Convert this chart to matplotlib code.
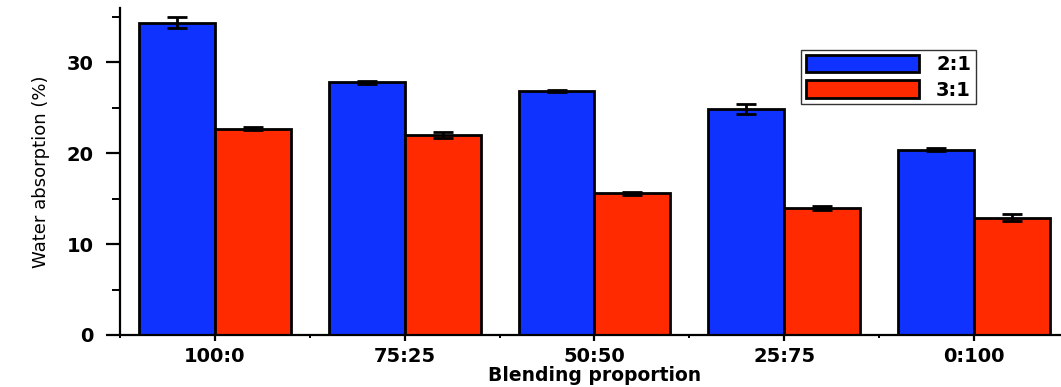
import numpy as np
import matplotlib
matplotlib.use("Agg")
from matplotlib import pyplot as plt
from matplotlib.ticker import MultipleLocator

# water absorption by blending proportion, two binder ratios
categories = ["100:0", "75:25", "50:50", "25:75", "0:100"]
ratio_21 = [34.4, 27.8, 26.9, 24.9, 20.4]
ratio_21_err = [0.65, 0.2, 0.1, 0.55, 0.15]
ratio_31 = [22.7, 22.0, 15.6, 14.0, 12.9]
ratio_31_err = [0.15, 0.3, 0.15, 0.25, 0.4]

blue = "#0f32ff"
red = "#ff2a00"

fig = plt.figure(figsize=(10.61, 3.87), dpi=100)
ax = fig.add_axes([0.1131, 0.1344, 0.8944, 0.845])

x = np.arange(len(categories))
w = 0.4
ax.bar(x - w/2, ratio_21, width=w, color=blue, edgecolor="black", linewidth=2, label="2:1", zorder=2)
ax.bar(x + w/2, ratio_31, width=w, color=red, edgecolor="black", linewidth=2, label="3:1", zorder=2)
ax.errorbar(x - w/2, ratio_21, yerr=ratio_21_err, fmt="none", ecolor="black",
            elinewidth=2, capsize=7.5, capthick=2, zorder=3)
ax.errorbar(x + w/2, ratio_31, yerr=ratio_31_err, fmt="none", ecolor="black",
            elinewidth=2, capsize=7.5, capthick=2, zorder=3)

ax.set_xlim(-0.5, 4.5)
ax.set_ylim(0, 36)
ax.set_xticks(x)
ax.set_xticklabels(categories)
ax.xaxis.set_minor_locator(MultipleLocator(1, offset=0.5))
ax.yaxis.set_major_locator(MultipleLocator(10))
ax.yaxis.set_minor_locator(MultipleLocator(5))

for side in ["top", "right"]:
    ax.spines[side].set_visible(False)
for side in ["left", "bottom"]:
    ax.spines[side].set_linewidth(1.6)

ax.tick_params(axis="y", which="major", direction="out", length=10, width=1.6, pad=9)
ax.tick_params(axis="y", which="minor", direction="out", length=6, width=1.4)
ax.tick_params(axis="x", which="major", direction="out", length=4.5, width=1.6, pad=4)
ax.tick_params(axis="x", which="minor", direction="out", length=2.5, width=1.4)
for lab in ax.get_xticklabels() + ax.get_yticklabels():
    lab.set_fontweight("heavy")
    lab.set_fontsize(14)
    lab.set_family("DejaVu Sans")

ax.set_xlabel("Blending proportion", fontsize=13.5, fontweight="heavy", labelpad=0,
              family="DejaVu Sans")
ax.set_ylabel("Water absorption (%)", fontsize=13, labelpad=12,
              family=["Liberation Sans Narrow", "DejaVu Sans"])

leg = ax.legend(loc="upper left", bbox_to_anchor=(0.7176, 0.871), frameon=True,
                borderaxespad=0, fancybox=False, edgecolor="black",
                handlelength=5.8, handleheight=1.0,
                borderpad=0.25, labelspacing=0.3, handletextpad=0.9,
                prop={"weight": "heavy", "size": 14, "family": "DejaVu Sans"})
leg.get_frame().set_linewidth(1.0)

fig.savefig("out.png", dpi=100)
